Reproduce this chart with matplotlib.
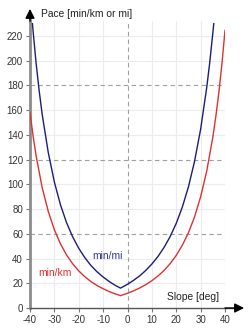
import matplotlib
matplotlib.use("Agg")
import matplotlib.pyplot as plt

plt.rcParams['font.family'] = ['Liberation Sans', 'DejaVu Sans']

# Slope (deg) and pace values
slope_km = [-40, -38.75, -37.5, -35, -32.5, -30, -27.5, -25, -22.5, -20, -17.5, -15,
            -12.5, -10, -7.5, -5, -2.86, 0, 2.5, 5, 7.5, 10, 12.5, 15, 17.5, 20,
            22.5, 25, 27.5, 30, 32.5, 35, 36.25, 37.5, 38.75, 40]
pace_km = [158.3, 139.4, 123.1, 97.3, 78.1, 63.3, 51.9, 42.9, 35.8, 30.0, 25.3, 21.4,
           18.2, 15.6, 13.3, 11.4, 10.0, 11.9, 13.9, 16.2, 18.9, 22.1, 25.9, 30.4, 35.9, 42.6,
           50.8, 60.9, 73.7, 89.9, 110.8, 138.1, 155.1, 174.7, 197.8, 224.6]

slope_mi = [-39, -38.75, -37.5, -36.25, -35, -32.5, -30, -27.5, -25, -22.5, -20, -17.5, -15,
            -12.5, -10, -7.5, -5, -2.86, 0, 2.5, 5, 7.5, 10, 12.5, 15, 17.5, 20,
            22.5, 25, 27.5, 30, 32.5, 33.75, 35, 35.4]
pace_mi = [230.0, 224.3, 198.1, 175.9, 156.6, 125.7, 101.9, 83.5, 69.0, 57.6, 48.3, 40.7, 34.4,
           29.3, 25.1, 21.4, 18.3, 16.1, 19.2, 22.4, 26.0, 30.4, 35.6, 41.7, 49.0, 57.8, 68.5,
           81.7, 98.0, 118.6, 144.6, 178.3, 198.8, 222.3, 230.0]

x_ticks = [-40, -30, -20, -10, 0, 10, 20, 30, 40]
y_ticks = [0, 20, 40, 60, 80, 100, 120, 140, 160, 180, 200, 220]
dashed_y = [60, 120, 180]

fig = plt.figure(figsize=(2.5, 3.34), dpi=100)
ax = fig.add_axes([0.12, 0.0778, 0.78, 0.8587])
ax.set_xlim(-40, 40)
ax.set_ylim(0, 232)

for xv in x_ticks:
    if xv != 0:
        ax.axvline(xv, color="#ececec", lw=0.8, zorder=0)
for yv in y_ticks:
    if yv not in dashed_y and yv != 0:
        ax.axhline(yv, color="#ececec", lw=0.8, zorder=0)
for yv in dashed_y:
    ax.axhline(yv, color="#a0a0a0", lw=0.8, ls=(0, (4, 3)), zorder=1)
ax.axvline(0, color="#a0a0a0", lw=0.8, ls=(0, (4, 3)), zorder=1)

ax.plot(slope_km, pace_km, color="#e03030", lw=1.0, zorder=3)
ax.plot(slope_mi, pace_mi, color="#1c1c7a", lw=1.0, zorder=3)

for s in ["top", "right"]:
    ax.spines[s].set_visible(False)
ax.spines["left"].set_color("#8c8c8c")
ax.spines["left"].set_linewidth(2.0)
ax.spines["bottom"].set_color("#555555")
ax.spines["bottom"].set_linewidth(1.0)

ax.set_xticks(x_ticks)
ax.set_yticks(y_ticks)
ax.set_xticklabels([str(v) for v in x_ticks])
ax.set_yticklabels([str(v) for v in y_ticks])
ax.tick_params(axis="both", labelsize=7, colors="#333333", length=3, width=0.8,
               pad=2, color="#777777")

# axis arrows
ax.plot([-40, -40], [232, 236], color="#8c8c8c", lw=2.0, clip_on=False)
ax.annotate("", xy=(-40, 1.043), xycoords=("data", "axes fraction"),
            xytext=(-40, 1.0), textcoords=("data", "axes fraction"),
            arrowprops=dict(arrowstyle="-|>", color="black", lw=1.0, mutation_scale=14,
                            shrinkA=0, shrinkB=0), annotation_clip=False)
ax.plot([40, 44], [0, 0], color="#555555", lw=1.0, clip_on=False)
ax.annotate("", xy=(1.098, 0), xycoords=("axes fraction", "data"),
            xytext=(1.0, 0), textcoords=("axes fraction", "data"),
            arrowprops=dict(arrowstyle="-|>", color="black", lw=1.0, mutation_scale=14,
                            shrinkA=0, shrinkB=0), annotation_clip=False)

ax.text(-35.5, 1.025, "Pace [min/km or mi]", transform=ax.get_xaxis_transform(),
        fontsize=7.4, color="#222222", va="center", ha="left")
ax.text(37.5, 9.0, "Slope [deg]", fontsize=7.4, color="#222222", ha="right", va="center")
ax.text(-14.6, 42, "min/mi", fontsize=7.4, color="#333399", ha="left", va="center")
ax.text(-36.7, 28.3, "min/km", fontsize=7.4, color="#e03030", ha="left", va="center")

fig.savefig("out.png", dpi=100)
